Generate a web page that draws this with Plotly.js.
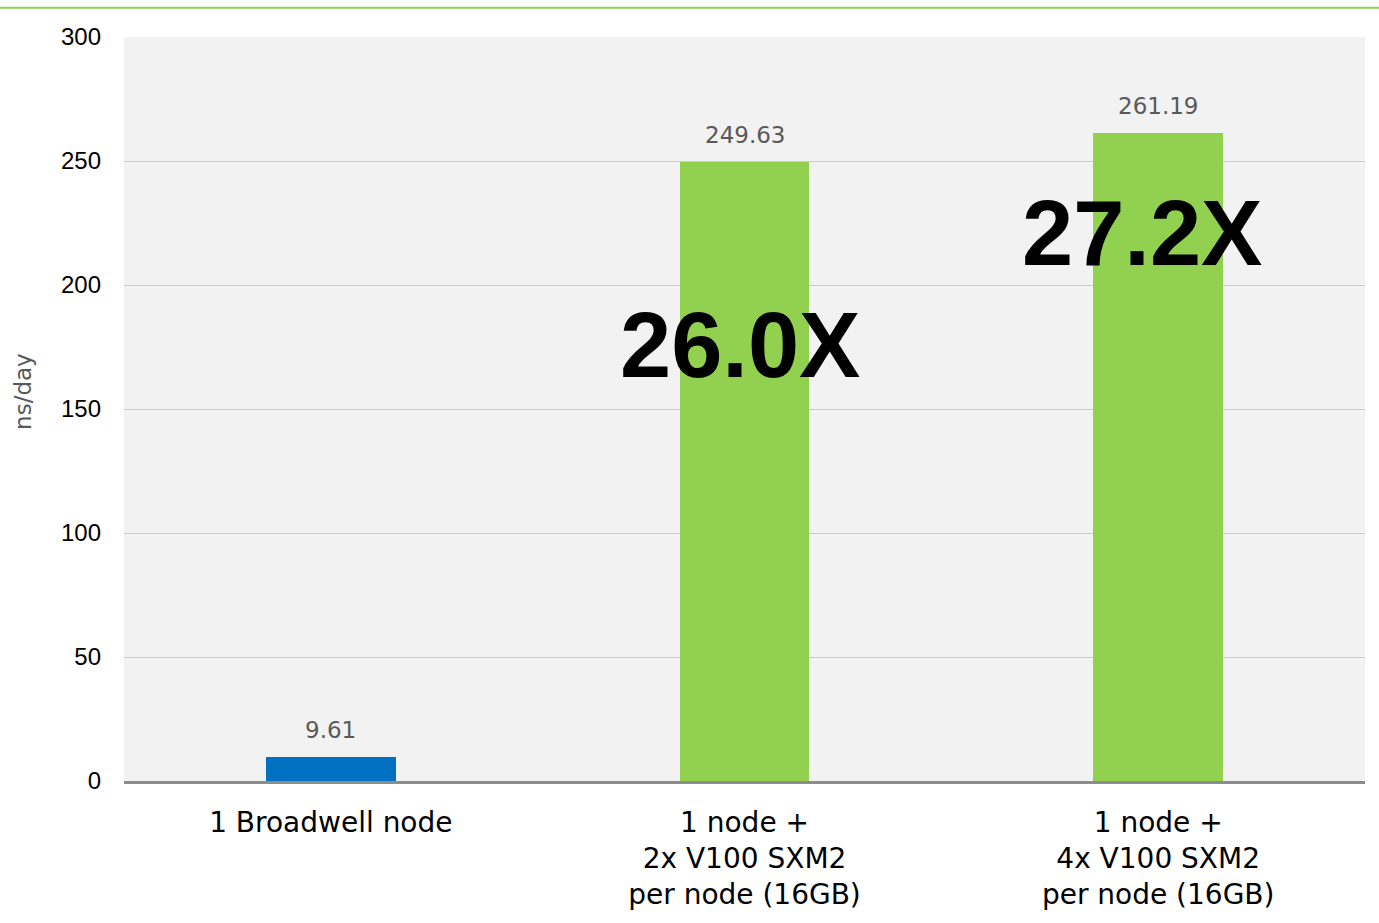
<!DOCTYPE html>
<html><head><meta charset="utf-8">
<script src="https://cdn.plot.ly/plotly-3.0.1.min.js"></script>
<style>body{margin:0;background:#fff}#c{width:1379px;height:923px}</style>
</head><body><div id="c"></div>
<script>
const categories = ["1 Broadwell node", "1 node +<br>2x V100 SXM2<br>per node (16GB)", "1 node +<br>4x V100 SXM2<br>per node (16GB)"];
const values = [9.61, 249.63, 261.19];
const valueLabels = ["9.61", "249.63", "261.19"];
const barColors = ["#0070c0", "#92d050", "#92d050"];
const speedups = ["26.0X", "27.2X"];
const speedupX = [0.99, 1.96];
const speedupY = [176, 221];
const yTicks = [0, 50, 100, 150, 200, 250, 300];

const font = "Liberation Sans, Arial, sans-serif";
const font2 = "DejaVu Sans, Verdana, sans-serif";
const trace = {
  type: "bar", x: [0,1,2], y: values, width: 0.314,
  marker: {color: barColors},
  hoverinfo: "none"
};
const annotations = speedups.map((t,i)=>({
  x: speedupX[i], y: speedupY[i], xref:"x", yref:"y", text: t, showarrow:false,
  font:{family: font, size: 92, color:"#000", weight: "bold"}
}));
values.forEach((v,i)=>annotations.push({
  x: i, y: v, xref:"x", yref:"y", text: valueLabels[i], showarrow:false,
  yanchor:"middle", yshift: 27,
  font:{family: font2, size: 23, color:"#595959"}
}));
annotations.push({
  xref:"paper", yref:"y", x:-0.082, y:157, text:"ns/day", textangle:-90, showarrow:false,
  xanchor:"center", yanchor:"middle",
  font:{family: font2, size: 23, color:"#595959"}
});
const layout = {
  width: 1379, height: 923,
  margin: {l:124, r:14, t:37, b:142},
  paper_bgcolor: "#ffffff", plot_bgcolor: "#f2f2f2",
  showlegend: false, bargap: 0,
  xaxis: {range:[-0.5,2.5], tickvals:[0,1,2], ticktext: categories, showgrid:false, zeroline:false,
    showline:true, linecolor:"#8c8c8c", linewidth:3, ticks:"", ticklabelstandoff: 14,
    tickfont:{family: font2, size:28, color:"#000"}},
  yaxis: {range:[0,300], tickvals: yTicks, showgrid:true, gridcolor:"#cccccc", gridwidth:1,
    zeroline:false, showline:false, ticks:"", ticklabelstandoff: 22,
    tickfont:{family: font, size:24, color:"#000"}},
  annotations: annotations,
  shapes: [{type:"line", xref:"paper", yref:"paper", x0:-0.2, x1:1.2, y0:1.0392, y1:1.0392,
    line:{color:"#92d050", width:2}}]
};
Plotly.newPlot("c", [trace], layout, {staticPlot:true, displayModeBar:false});
</script></body></html>
